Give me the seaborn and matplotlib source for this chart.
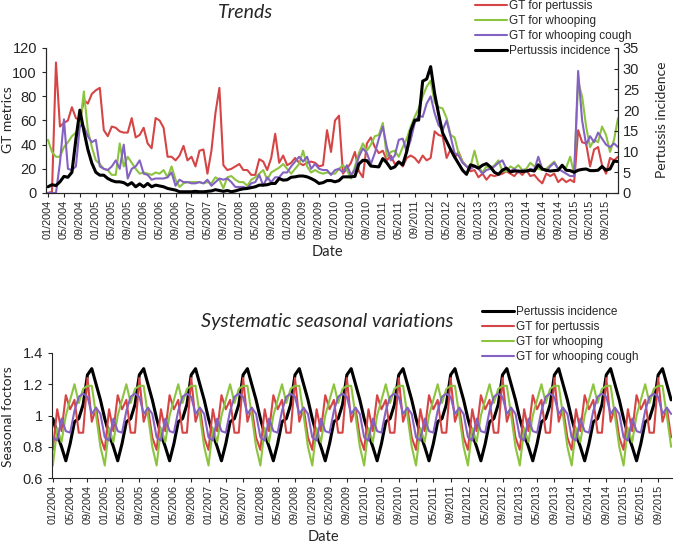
import numpy as np
import pandas as pd
import matplotlib
matplotlib.use("Agg")
import matplotlib.pyplot as plt
import seaborn as sns

# monthly data, 01/2004 - 12/2015
months = pd.date_range("2004-01-01", "2015-12-01", freq="MS")
tick_labels = [d.strftime("%m/%Y") for d in months[::4]]

gt_pertussis = [
    0, 1, 108, 55, 58, 60, 71, 62, 60, 77, 74, 82,
    85, 87, 52, 47, 55, 54, 51, 50, 50, 62, 46, 48,
    54, 41, 37, 62, 60, 54, 30, 30, 27, 31, 39, 27,
    30, 22, 35, 36, 16, 35, 66, 87, 23, 19, 20, 22,
    24, 19, 19, 15, 15, 28, 26, 19, 29, 49, 25, 31,
    23, 25, 29, 25, 23, 25, 26, 25, 22, 23, 52, 34,
    60, 64, 16, 20, 25, 34, 18, 13, 41, 46, 38, 33,
    35, 27, 31, 24, 26, 22, 29, 31, 29, 25, 31, 27,
    29, 51, 48, 47, 29, 36, 29, 34, 26, 22, 18, 19,
    13, 16, 11, 15, 14, 15, 16, 18, 16, 14, 18, 15,
    19, 14, 15, 11, 8, 16, 14, 16, 9, 12, 9, 11,
    9, 52, 42, 41, 22, 36, 38, 23, 16, 29, 27, 30,
]
gt_whooping = [
    44, 34, 30, 30, 38, 42, 47, 50, 55, 84, 52, 38,
    27, 24, 20, 19, 15, 15, 41, 22, 30, 25, 20, 16,
    17, 16, 15, 17, 16, 19, 13, 22, 11, 5, 8, 9,
    9, 9, 9, 8, 9, 8, 13, 11, 4, 13, 14, 11,
    9, 9, 6, 11, 13, 16, 19, 11, 17, 19, 21, 24,
    20, 16, 20, 24, 35, 22, 17, 19, 17, 16, 17, 16,
    16, 20, 23, 19, 12, 22, 33, 41, 35, 40, 47, 48,
    58, 30, 34, 35, 30, 38, 45, 55, 63, 70, 80, 88,
    93, 75, 71, 70, 62, 48, 46, 33, 26, 22, 22, 35,
    22, 17, 22, 20, 23, 27, 18, 18, 22, 20, 23, 19,
    20, 25, 22, 20, 19, 20, 23, 26, 20, 22, 21, 30,
    16, 92, 80, 55, 38, 44, 42, 55, 48, 34, 44, 62,
]
gt_whooping_cough = [
    0, 0, 0, 25, 61, 20, 19, 22, 56, 55, 47, 42,
    44, 22, 20, 19, 22, 27, 20, 40, 12, 20, 22, 27,
    16, 15, 11, 12, 12, 12, 13, 17, 6, 11, 9, 9,
    8, 8, 9, 8, 11, 6, 9, 12, 11, 12, 9, 5,
    5, 5, 4, 8, 9, 15, 6, 13, 9, 13, 13, 17,
    17, 22, 26, 30, 26, 30, 20, 24, 20, 19, 19, 15,
    19, 20, 17, 23, 15, 19, 30, 37, 33, 24, 33, 45,
    55, 38, 27, 31, 44, 45, 34, 44, 58, 64, 63, 74,
    80, 66, 56, 52, 60, 47, 33, 31, 25, 22, 20, 22,
    20, 16, 19, 20, 22, 25, 27, 20, 18, 20, 17, 19,
    18, 20, 19, 30, 20, 18, 22, 25, 20, 18, 16, 14,
    14, 101, 60, 40, 47, 42, 50, 45, 40, 38, 41, 38,
]
pertussis_incidence = [
    1.5, 2.0, 1.8, 2.7, 4.0, 3.8, 5.0, 13, 20, 15, 10.5, 7.2,
    5.0, 4.3, 4.3, 3.5, 3.0, 2.7, 2.7, 2.5, 1.9, 2.5, 1.5, 2.2,
    1.5, 2.3, 1.5, 1.9, 1.7, 1.5, 1.1, 0.9, 0.7, 0.3, 0.3, 0.3,
    0.3, 0.4, 0.3, 0.3, 0.4, 0.5, 0.8, 0.6, 0.4, 0.6, 0.3, 0.5,
    0.8, 1.0, 1.1, 1.3, 1.5, 1.9, 1.9, 2.0, 2.3, 2.3, 3.5, 3.1,
    3.2, 3.8, 3.9, 4.1, 4.1, 3.9, 3.5, 3.0, 2.3, 2.5, 3.0, 3.0,
    2.7, 3.0, 3.9, 3.9, 3.9, 4.0, 7.0, 7.9, 7.8, 6.5, 6.4, 6.3,
    8.3, 7.3, 5.9, 6.3, 7.5, 6.8, 10, 15, 17.6, 17.6, 27, 27.5,
    30.5, 24, 19, 14.5, 12.5, 10.5, 8.7, 7.1, 5.5, 4.5, 6.8, 6.5,
    6.0, 6.7, 7.1, 6.3, 5.0, 4.5, 5.5, 6.0, 5.1, 5.3, 5.3, 5.2,
    5.3, 5.5, 5.3, 6.8, 5.8, 5.5, 5.3, 5.4, 5.5, 6.7, 5.5, 5.4,
    5.0, 5.5, 5.7, 5.8, 5.4, 5.4, 5.5, 6.4, 5.5, 5.8, 7.7, 7.6,
]

# seasonal factors, Jan..Dec (same every year)
season_incidence = [0.98, 0.88, 0.80, 0.71, 0.82, 0.96, 0.98, 1.07, 1.26, 1.30, 1.20, 1.10]
season_pertussis = [0.78, 1.04, 0.90, 1.13, 1.04, 1.10, 0.89, 0.89, 1.24, 0.96, 1.05, 0.86]
season_whooping = [0.68, 0.92, 0.83, 1.00, 1.10, 1.20, 1.08, 1.17, 1.19, 1.19, 1.00, 0.80]
season_whooping_cough = [0.86, 0.84, 0.98, 0.90, 0.89, 1.03, 1.12, 1.14, 1.12, 1.01, 1.05, 1.01]

RED = "#d64545"
GREEN = "#8cc43f"
PURPLE = "#8462c2"

sns.set_style("ticks")
plt.rcParams["font.family"] = ["Liberation Sans", "DejaVu Sans"]
label_font = ["Lato", "DejaVu Sans"]

W, H = 675, 544
fig = plt.figure(figsize=(W / 100, H / 100), dpi=100)
x = np.arange(len(months))
xt = np.arange(0, len(months), 4)

# ---- top: trends ----
ax1 = fig.add_axes([46 / W, 1 - 193 / H, 572 / W, 145 / H])
ax2 = ax1.twinx()
sns.lineplot(x=x, y=gt_pertussis, ax=ax1, color=RED, lw=1.5, label="GT for pertussis", legend=False)
sns.lineplot(x=x, y=gt_whooping, ax=ax1, color=GREEN, lw=1.5, label="GT for whooping", legend=False)
sns.lineplot(x=x, y=gt_whooping_cough, ax=ax1, color=PURPLE, lw=1.5, label="GT for whooping cough", legend=False)
sns.lineplot(x=x, y=pertussis_incidence, ax=ax2, color="black", lw=2.2, label="Pertussis incidence", legend=False)

ax1.set_xlim(-0.5, 143)
ax1.set_ylim(0, 120)
ax1.set_yticks(range(0, 121, 20))
ax2.set_ylim(0, 35)
ax2.set_yticks(range(0, 36, 5))
ax1.set_xticks(xt)
ax1.set_xticklabels(tick_labels, rotation=90, fontsize=7.8)
ax1.tick_params(axis="y", labelsize=10.5, length=3)
ax1.tick_params(axis="x", length=3, pad=2)
ax2.tick_params(axis="y", labelsize=10.5, length=3, direction="in")
for a in (ax1, ax2):
    a.spines["top"].set_visible(False)
    a.set_xlabel("")
    a.set_ylabel("")

h1, l1 = ax1.get_legend_handles_labels()
h2, l2 = ax2.get_legend_handles_labels()
fig.legend(h1 + h2, l1 + l2, loc="upper left", bbox_to_anchor=(475 / W, 1.0),
           frameon=False, fontsize=8.5, handlelength=2.7, handletextpad=0.15,
           labelspacing=0.25, borderpad=0, borderaxespad=0)

fig.text(245 / W, 1 - 13 / H, "Trends", ha="center", va="center", fontsize=14,
         style="italic", family=label_font)
fig.text(8 / W, 1 - 120 / H, "GT metrics", rotation=90, ha="center", va="center",
         fontsize=10, family=label_font)
fig.text(662 / W, 1 - 120 / H, "Pertussis incidence", rotation=90, ha="center", va="center",
         fontsize=10, family=label_font)
fig.text(327 / W, 1 - 252 / H, "Date", ha="center", va="center", fontsize=10.5, family=label_font)

# ---- bottom: seasonal factors ----
ax3 = fig.add_axes([52 / W, 1 - 478 / H, 620 / W, 125 / H])
sns.lineplot(x=x, y=np.tile(season_incidence, 12), ax=ax3, color="black", lw=2.2,
             label="Pertussis incidence", legend=False)
sns.lineplot(x=x, y=np.tile(season_pertussis, 12), ax=ax3, color=RED, lw=1.5,
             label="GT for pertussis", legend=False)
sns.lineplot(x=x, y=np.tile(season_whooping, 12), ax=ax3, color=GREEN, lw=1.5,
             label="GT for whooping", legend=False)
sns.lineplot(x=x, y=np.tile(season_whooping_cough, 12), ax=ax3, color=PURPLE, lw=1.5,
             label="GT for whooping cough", legend=False)

ax3.set_xlim(-0.2, 143.2)
ax3.set_ylim(0.6, 1.4)
ax3.set_yticks([0.6, 0.8, 1.0, 1.2, 1.4])
ax3.set_yticklabels(["0.6", "0.8", "1", "1.2", "1.4"])
ax3.set_xticks(xt)
ax3.set_xticklabels(tick_labels, rotation=90, fontsize=7.8)
ax3.tick_params(axis="y", labelsize=10.5, length=3)
ax3.tick_params(axis="x", length=3, pad=2)
ax3.spines["top"].set_visible(False)
ax3.spines["right"].set_visible(False)
ax3.set_xlabel("")
ax3.set_ylabel("")

h3, l3 = ax3.get_legend_handles_labels()
fig.legend(h3, l3, loc="upper left", bbox_to_anchor=(482 / W, 1 - 306 / H),
           frameon=False, fontsize=8.5, handlelength=2.7, handletextpad=0.15,
           labelspacing=0.25, borderpad=0, borderaxespad=0)

fig.text(327 / W, 1 - 322 / H, "Systematic seasonal variations", ha="center", va="center",
         fontsize=14.3, style="italic", family=label_font)
fig.text(8 / W, 1 - 417 / H, "Seasonal foctors", rotation=90, ha="center", va="center",
         fontsize=10, family=label_font)
fig.text(323 / W, 1 - 537 / H, "Date", ha="center", va="center", fontsize=10.5, family=label_font)

fig.savefig("out.png", dpi=100)
